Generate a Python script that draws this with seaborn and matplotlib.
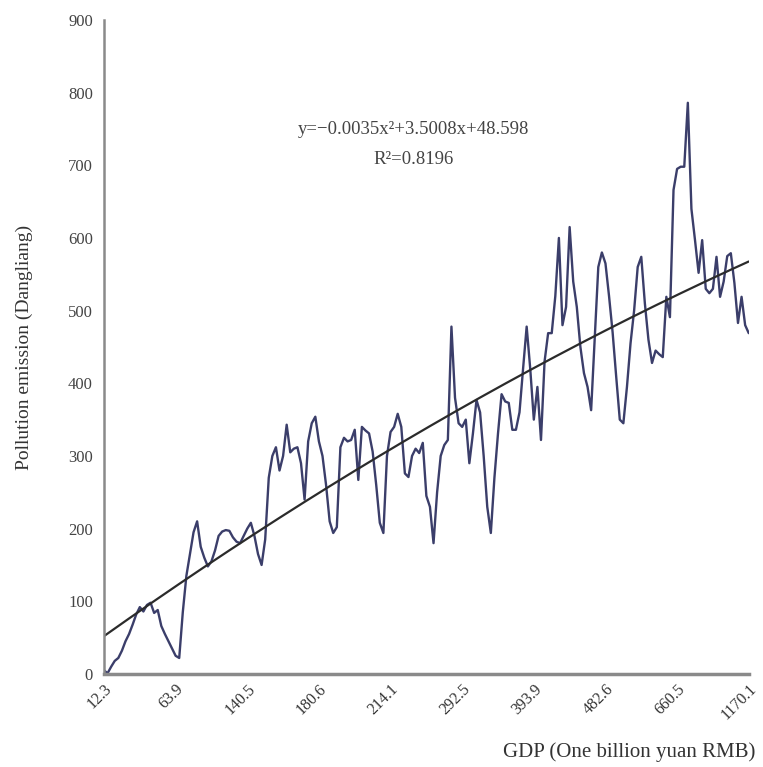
import numpy as np
import pandas as pd
import matplotlib
matplotlib.use("Agg")
import matplotlib.pyplot as plt
import seaborn as sns

# Pollution emission per city, sorted by GDP
emission = [
    5, 1, 10, 18, 22, 32, 45, 55, 68, 82,
    92, 86, 95, 98, 84, 88, 66, 55, 45, 35,
    25, 22, 85, 135, 165, 195, 210, 175, 160, 148,
    155, 170, 190, 196, 198, 197, 188, 182, 180, 190,
    200, 208, 190, 165, 150, 185, 270, 300, 312, 280,
    300, 343, 305, 310, 312, 290, 240, 320, 345, 354,
    320, 300, 260, 210, 194, 202, 312, 325, 320, 322,
    336, 267, 340, 335, 331, 306, 260, 208, 194, 300,
    333, 340, 358, 340, 276, 271, 300, 310, 304, 318,
    245, 230, 180, 250, 300, 315, 322, 478, 380, 345,
    340, 350, 290, 331, 377, 360, 300, 230, 194, 270,
    331, 385, 375, 373, 336, 336, 360, 420, 478, 420,
    350, 395, 322, 430, 469, 469, 520, 600, 480, 505,
    615, 540, 505, 450, 414, 395, 363, 460, 560, 580,
    565, 520, 470, 409, 350, 345, 395, 455, 500, 560,
    574, 510, 460, 428, 445, 440, 436, 519, 491, 666,
    695, 698, 698, 786, 640, 597, 552, 597, 530, 524,
    530, 574, 519, 540, 575, 579, 538, 483, 519, 480,
    469,
]

# GDP tick labels shown every 20 points
gdp_labels = ["12.3", "63.9", "140.5", "180.6", "214.1",
              "292.5", "393.9", "482.6", "660.5", "1170.1"]

# quadratic trend from the chart
coef_a, coef_b, coef_c = -0.0035, 3.5008, 48.598
eq_text = "y=\u22120.0035x\u00b2+3.5008x+48.598"
r2_text = "R\u00b2=0.8196"

df = pd.DataFrame({"idx": np.arange(len(emission)), "emission": emission})
df["trend"] = coef_a * (df["idx"] + 1) ** 2 + coef_b * (df["idx"] + 1) + coef_c

sns.set_style("white")
plt.rcParams["font.family"] = ["Liberation Serif", "DejaVu Serif"]

fig = plt.figure(figsize=(7.63, 7.67), dpi=100)
ax = fig.add_axes([0.1363, 0.1213, 0.8450, 0.8527])

sns.lineplot(data=df, x="idx", y="emission", ax=ax, color="#3b3e6a", linewidth=1.7)
sns.lineplot(data=df, x="idx", y="trend", ax=ax, color="#2b2b2b", linewidth=1.6)

ax.set_xlim(0, len(emission) - 1)
ax.set_ylim(0, 900)
ax.set_yticks(range(0, 901, 100))
ax.set_xticks(range(0, len(emission), 20))
ax.set_xticklabels(gdp_labels, rotation=45, ha="right", rotation_mode="anchor")
ax.set_xticks(range(10, len(emission), 20), minor=True)

for side in ["top", "right"]:
    ax.spines[side].set_visible(False)
ax.spines["bottom"].set_color("#8a8a8a")
ax.spines["bottom"].set_linewidth(2.5)
ax.spines["left"].set_color("#8a8a8a")
ax.spines["left"].set_linewidth(1.8)

ax.tick_params(axis="x", which="both", direction="in", length=5, width=1.5,
               color="#555555", labelsize=11.5, labelcolor="#333333", pad=5)
ax.tick_params(axis="y", direction="out", length=4, width=1.5,
               color="#555555", labelsize=12, labelcolor="#444444", pad=4)

ax.set_xlabel("GDP (One billion yuan RMB)", fontsize=15, color="#333333")
ax.xaxis.set_label_coords(1.01, -0.105)
ax.xaxis.label.set_horizontalalignment("right")
ax.set_ylabel("Pollution emission (Dangliang)", fontsize=14, color="#333333")
ax.yaxis.set_label_coords(-0.11, 0.5)

ax.text(0.48, 0.825, eq_text, transform=ax.transAxes, ha="center",
        fontsize=13.5, color="#444444")
ax.text(0.48, 0.78, r2_text, transform=ax.transAxes, ha="center",
        fontsize=13.5, color="#444444")

fig.savefig("out.png", dpi=100)
